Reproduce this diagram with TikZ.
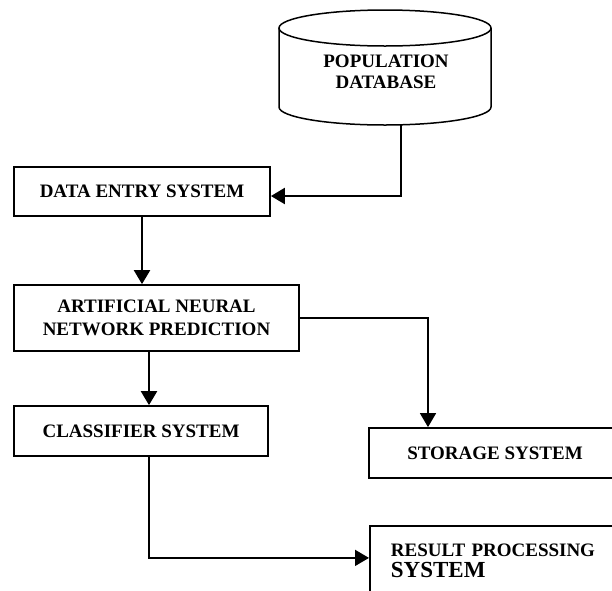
\documentclass[tikz,border=0pt]{standalone}
\usepackage{fontspec}
\setmainfont{Liberation Serif}
\usetikzlibrary{arrows.meta}
\begin{document}
\begin{tikzpicture}[x=1pt,y=-1pt,
    box/.style={draw,line width=1.8pt,font=\bfseries\fontsize{19}{23}\selectfont,align=center,inner sep=0pt},
    flow/.style={line width=2.4pt,-{Triangle[length=14pt,width=16pt]}},
    thinflow/.style={line width=1.6pt,-{Triangle[length=14pt,width=16pt]}}]
    \useasboundingbox (0,0) rectangle (612,590);
    \clip (0,0) rectangle (612,590);

    \draw[line width=1.5pt] (279,28) -- (279,107) arc[start angle=180,end angle=360,x radius=106pt,y radius=18pt] -- (491,28);
    \draw[line width=1.5pt] (385,28) ellipse[x radius=106pt,y radius=18pt];
    \node[font=\bfseries\fontsize{19}{21}\selectfont,align=center] (PopDB) at (386,72) {POPULATION\\DATABASE};
    \coordinate (PopDBout) at (401,125);

    \node[box,minimum width=256pt,minimum height=49pt] (DataEntry) at (142,191.5) {DATA ENTRY SYSTEM};
    \node[box,minimum width=285pt,minimum height=66pt] (ANN) at (156.5,318) {ARTIFICIAL NEURAL\\NETWORK PREDICTION};
    \node[box,minimum width=254pt,minimum height=50pt] (Clf) at (141,431) {CLASSIFIER SYSTEM};
    \node[box,minimum width=252pt,minimum height=50pt] (Store) at (495,453) {STORAGE SYSTEM};
    \node[box,align=left,anchor=north west,minimum width=252pt,minimum height=70pt,inner xsep=21pt,text width=210pt] (Result) at (369,525) {RESULT PROCESSING\\[-2pt]{\fontsize{23}{25}\selectfont SYSTEM}};

    \draw[flow] (PopDBout) |- ([yshift=-4.5pt]DataEntry.east);
    \draw[flow] (DataEntry.south) -- (DataEntry.south |- ANN.north);
    \draw[flow] ([xshift=-7.5pt]ANN.south) -- ([xshift=-7.5pt]ANN.south |- Clf.north);
    \draw[thinflow] (ANN.east) -| ([xshift=-67pt]Store.north);
    \draw[thinflow] ([xshift=8pt]Clf.south) |- ([yshift=3pt]Result.west);
\end{tikzpicture}
\end{document}
